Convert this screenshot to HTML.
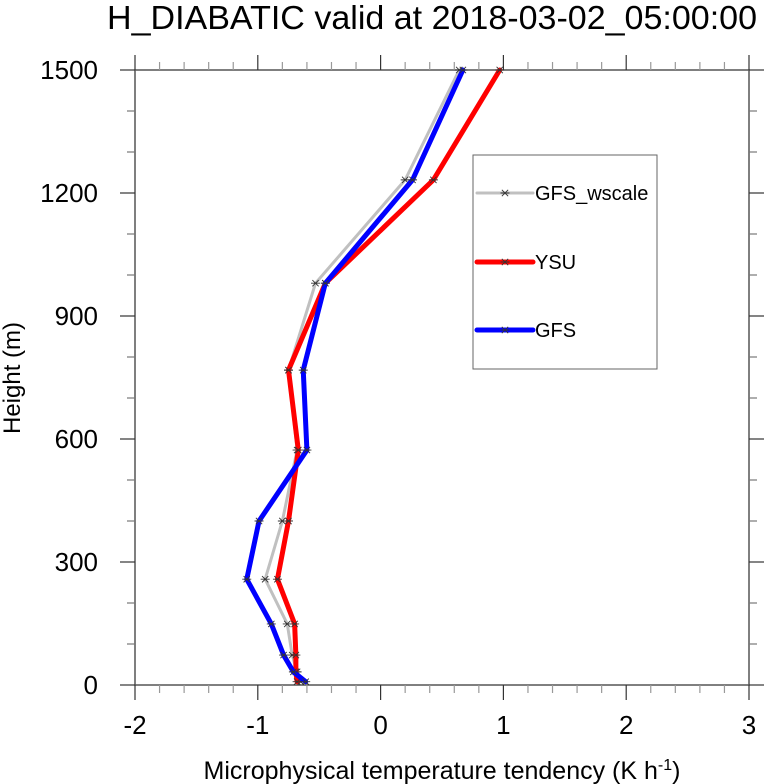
<!DOCTYPE html>
<html><head><meta charset="utf-8"><style>
html,body{margin:0;padding:0;background:#fff;}
svg{display:block;font-family:"Liberation Sans",Arial,sans-serif;}
</style></head><body>
<svg id="chart" width="777" height="784" viewBox="0 0 777 784" xmlns="http://www.w3.org/2000/svg">
<text x="432" y="29" font-size="33" text-anchor="middle" textLength="650" lengthAdjust="spacingAndGlyphs">H_DIABATIC valid at 2018-03-02_05:00:00</text>
<text x="442" y="779" font-size="25" text-anchor="middle">Microphysical temperature tendency (K h<tspan dy="-9" font-size="16">-1</tspan><tspan dy="9">)</tspan></text>
<text transform="translate(20,378) rotate(-90)" font-size="24" text-anchor="middle">Height (m)</text>
<g id="axes"></g>
<g id="series"></g>
<g id="legend"></g>
</svg>
<script>
const heights = [1500, 1232, 980, 768, 573, 400, 258, 149, 73, 32, 8];
const gfsWscale = [0.64, 0.20, -0.53, -0.75, -0.68, -0.80, -0.94, -0.76, -0.72, -0.68, -0.65];
const ysu = [0.97, 0.43, -0.45, -0.75, -0.67, -0.75, -0.84, -0.70, -0.69, -0.69, -0.68];
const gfs = [0.67, 0.26, -0.45, -0.63, -0.60, -0.99, -1.09, -0.89, -0.79, -0.71, -0.61];
const xTicks = [-2, -1, 0, 1, 2, 3];
const yTicks = [0, 300, 600, 900, 1200, 1500];
const seriesNames = ["GFS_wscale", "YSU", "GFS"];

const L=135, R=749, T=70, B=685;
const xMin=-2, xMax=3, yMin=0, yMax=1500;
const X = v => L + (v - xMin) / (xMax - xMin) * (R - L);
const Y = v => B - (v - yMin) / (yMax - yMin) * (B - T);
const NS="http://www.w3.org/2000/svg";
function mk(tag, attrs, parent){const e=document.createElementNS(NS,tag);for(const k in attrs)e.setAttribute(k,attrs[k]);parent.appendChild(e);return e;}
const axes=document.getElementById('axes');
const frame=mk('rect',{x:L,y:T,width:R-L,height:B-T,fill:'none',stroke:'#555','stroke-width':1.5},axes);


for(let v=xMin; v<=xMax+1e-9; v+=0.2){
  const major=Math.abs(v-Math.round(v))<1e-6;
  const len=major?15:8, x=X(v);
  const t1=mk('line',{x1:x,y1:B,x2:x,y2:B+len,stroke:major?'#333':'#999','stroke-width':1.2},axes);
  
  
  const t2=mk('line',{x1:x,y1:T,x2:x,y2:T-len,stroke:major?'#333':'#999','stroke-width':1.2},axes);
  
  
}
xTicks.forEach(v=>{
  const t=mk('text',{x:X(v),y:734,'font-size':26,'text-anchor':'middle'},axes);t.textContent=String(v);
  
  
});
for(let v=yMin; v<=yMax; v+=100){
  const major=v%300===0, len=major?15:8, y=Y(v);
  const t1=mk('line',{x1:L,y1:y,x2:L-len,y2:y,stroke:major?'#333':'#777','stroke-width':1.2},axes);
  
  
  const t2=mk('line',{x1:R,y1:y,x2:R+len,y2:y,stroke:major?'#333':'#777','stroke-width':1.2},axes);
  
  
}
yTicks.forEach(v=>{
  const t=mk('text',{x:98,y:Y(v)+9,'font-size':26,'text-anchor':'end'},axes);t.textContent=String(v);
  
  
});
const series=document.getElementById('series');
function star(g,x,y){
  const s=4.5;
  const p=mk('path',{d:`M${x-s},${y}H${x+s}M${x-s*0.7},${y-s*0.7}L${x+s*0.7},${y+s*0.7}M${x-s*0.7},${y+s*0.7}L${x+s*0.7},${y-s*0.7}`,stroke:'#333','stroke-width':0.9,fill:'none'},g);
  
  
}
const defs=[[gfsWscale,'#c0c0c0',3,'gfs-wscale-line'],[ysu,'#ff0000',5,'ysu-line'],[gfs,'#0000ff',5,'gfs-line']];
defs.forEach(([vals,col,w,name])=>{
  const g=mk('g',{},series);
  
  
  const pts=vals.map((v,i)=>X(v)+','+Y(heights[i])).join(' ');
  const pl=mk('polyline',{points:pts,fill:'none',stroke:col,'stroke-width':w,'stroke-linejoin':'round','stroke-linecap':'round'},g);
  
  
  vals.forEach((v,i)=>star(g,X(v),Y(heights[i])));
});
const lg=document.getElementById('legend');
const box=mk('rect',{x:473,y:155,width:184,height:214,fill:'#fff',stroke:'#666','stroke-width':1},lg);


const ly=[193,262,330];
defs.forEach(([vals,col,w,name],i)=>{
  const g=mk('g',{},lg);
  
  
  mk('line',{x1:477,y1:ly[i],x2:533,y2:ly[i],stroke:col,'stroke-width':w,'stroke-linecap':'round'},g);
  star(g,505,ly[i]);
  const t=mk('text',{x:535,y:ly[i]+7,'font-size':20},g);t.textContent=seriesNames[i];
});
</script>
</body></html>
